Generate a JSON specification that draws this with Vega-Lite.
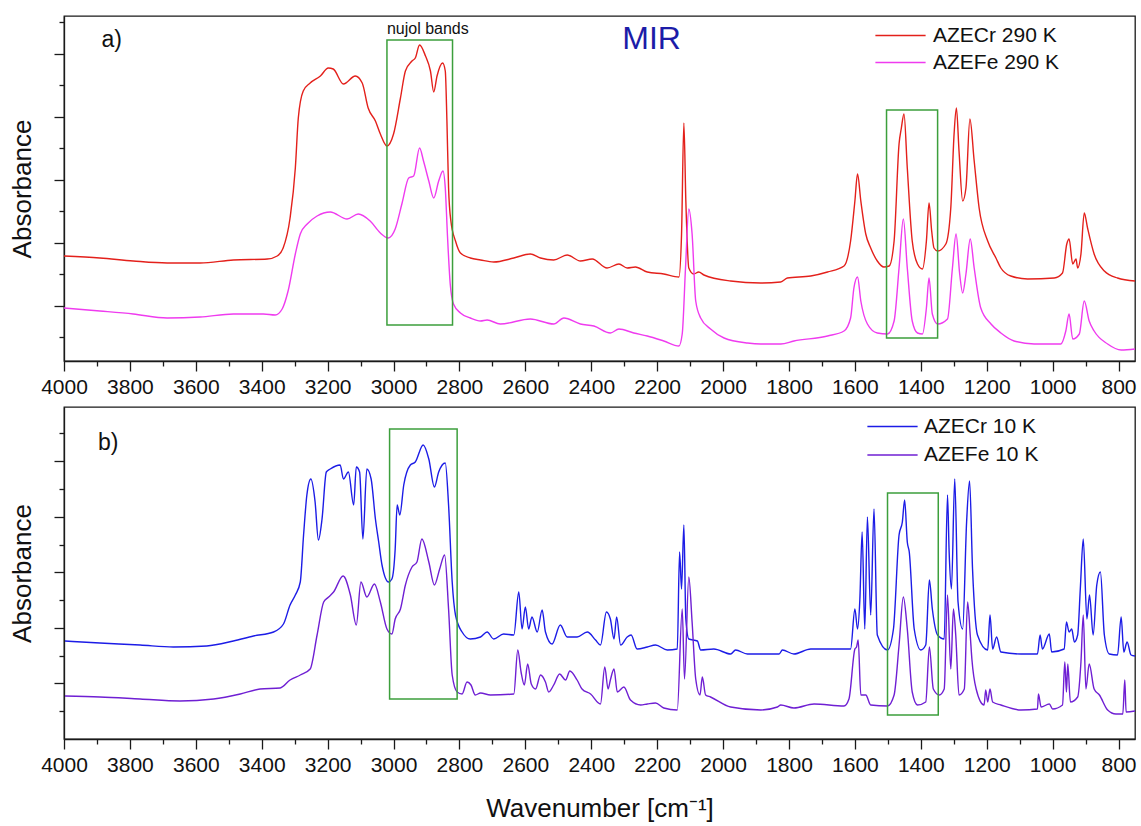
{
"$schema":"https://vega.github.io/schema/vega-lite/v6.json",
"padding":{"left":8,"top":15,"right":5,"bottom":5},
"spacing":8,
"config":{"font":"Liberation Sans","view":{"stroke":"#1a1a1a","strokeWidth":1.3},
"axis":{"domainColor":"#1a1a1a","domainWidth":1.3,"tickColor":"#1a1a1a","tickWidth":1.3,"labelColor":"#111","titleColor":"#111","labelFont":"Liberation Sans","titleFont":"Liberation Sans","grid":false,"titleFontWeight":"normal"},
"legend":{"labelFont":"Liberation Sans","labelColor":"#111"}},
"datasets":{
"top":[
{"s":"AZECr 290 K","wn":4000,"a":105},{"s":"AZECr 290 K","wn":3891,"a":103},{"s":"AZECr 290 K","wn":3790,"a":100},{"s":"AZECr 290 K","wn":3687,"a":98},{"s":"AZECr 290 K","wn":3587,"a":98},{"s":"AZECr 290 K","wn":3486,"a":101},{"s":"AZECr 290 K","wn":3383,"a":102},{"s":"AZECr 290 K","wn":3353,"a":105},{"s":"AZECr 290 K","wn":3335,"a":113},{"s":"AZECr 290 K","wn":3314,"a":143},{"s":"AZECr 290 K","wn":3298,"a":193},{"s":"AZECr 290 K","wn":3289,"a":243},{"s":"AZECr 290 K","wn":3274,"a":270},{"s":"AZECr 290 K","wn":3253,"a":278},{"s":"AZECr 290 K","wn":3222,"a":285},{"s":"AZECr 290 K","wn":3198,"a":293},{"s":"AZECr 290 K","wn":3183,"a":292},{"s":"AZECr 290 K","wn":3152,"a":277},{"s":"AZECr 290 K","wn":3116,"a":285},{"s":"AZECr 290 K","wn":3095,"a":278},{"s":"AZECr 290 K","wn":3077,"a":253},{"s":"AZECr 290 K","wn":3055,"a":240},{"s":"AZECr 290 K","wn":3040,"a":227},{"s":"AZECr 290 K","wn":3020,"a":215},{"s":"AZECr 290 K","wn":3000,"a":227},{"s":"AZECr 290 K","wn":2979,"a":263},{"s":"AZECr 290 K","wn":2964,"a":290},{"s":"AZECr 290 K","wn":2944,"a":300},{"s":"AZECr 290 K","wn":2934,"a":303},{"s":"AZECr 290 K","wn":2921,"a":316},{"s":"AZECr 290 K","wn":2903,"a":305},{"s":"AZECr 290 K","wn":2888,"a":290},{"s":"AZECr 290 K","wn":2878,"a":269},{"s":"AZECr 290 K","wn":2868,"a":285},{"s":"AZECr 290 K","wn":2851,"a":298},{"s":"AZECr 290 K","wn":2843,"a":290},{"s":"AZECr 290 K","wn":2838,"a":240},{"s":"AZECr 290 K","wn":2833,"a":173},{"s":"AZECr 290 K","wn":2826,"a":140},{"s":"AZECr 290 K","wn":2812,"a":120},{"s":"AZECr 290 K","wn":2797,"a":108},{"s":"AZECr 290 K","wn":2767,"a":103},{"s":"AZECr 290 K","wn":2736,"a":101},{"s":"AZECr 290 K","wn":2696,"a":99},{"s":"AZECr 290 K","wn":2635,"a":103},{"s":"AZECr 290 K","wn":2585,"a":107},{"s":"AZECr 290 K","wn":2554,"a":103},{"s":"AZECr 290 K","wn":2514,"a":101},{"s":"AZECr 290 K","wn":2473,"a":106},{"s":"AZECr 290 K","wn":2433,"a":100},{"s":"AZECr 290 K","wn":2397,"a":102},{"s":"AZECr 290 K","wn":2352,"a":93},{"s":"AZECr 290 K","wn":2316,"a":97},{"s":"AZECr 290 K","wn":2291,"a":93},{"s":"AZECr 290 K","wn":2266,"a":94},{"s":"AZECr 290 K","wn":2230,"a":89},{"s":"AZECr 290 K","wn":2180,"a":87},{"s":"AZECr 290 K","wn":2134,"a":84},{"s":"AZECr 290 K","wn":2126,"a":127},{"s":"AZECr 290 K","wn":2119,"a":238},{"s":"AZECr 290 K","wn":2113,"a":160},{"s":"AZECr 290 K","wn":2104,"a":93},{"s":"AZECr 290 K","wn":2089,"a":87},{"s":"AZECr 290 K","wn":2074,"a":89},{"s":"AZECr 290 K","wn":2058,"a":86},{"s":"AZECr 290 K","wn":1977,"a":80},{"s":"AZECr 290 K","wn":1886,"a":78},{"s":"AZECr 290 K","wn":1825,"a":79},{"s":"AZECr 290 K","wn":1805,"a":83},{"s":"AZECr 290 K","wn":1734,"a":85},{"s":"AZECr 290 K","wn":1683,"a":89},{"s":"AZECr 290 K","wn":1633,"a":95},{"s":"AZECr 290 K","wn":1613,"a":120},{"s":"AZECr 290 K","wn":1600,"a":160},{"s":"AZECr 290 K","wn":1592,"a":187},{"s":"AZECr 290 K","wn":1582,"a":160},{"s":"AZECr 290 K","wn":1567,"a":127},{"s":"AZECr 290 K","wn":1552,"a":113},{"s":"AZECr 290 K","wn":1532,"a":100},{"s":"AZECr 290 K","wn":1512,"a":94},{"s":"AZECr 290 K","wn":1496,"a":95},{"s":"AZECr 290 K","wn":1481,"a":120},{"s":"AZECr 290 K","wn":1466,"a":217},{"s":"AZECr 290 K","wn":1459,"a":233},{"s":"AZECr 290 K","wn":1451,"a":247},{"s":"AZECr 290 K","wn":1441,"a":193},{"s":"AZECr 290 K","wn":1426,"a":120},{"s":"AZECr 290 K","wn":1410,"a":97},{"s":"AZECr 290 K","wn":1395,"a":92},{"s":"AZECr 290 K","wn":1383,"a":120},{"s":"AZECr 290 K","wn":1375,"a":158},{"s":"AZECr 290 K","wn":1367,"a":130},{"s":"AZECr 290 K","wn":1360,"a":113},{"s":"AZECr 290 K","wn":1349,"a":110},{"s":"AZECr 290 K","wn":1324,"a":117},{"s":"AZECr 290 K","wn":1309,"a":153},{"s":"AZECr 290 K","wn":1299,"a":227},{"s":"AZECr 290 K","wn":1292,"a":253},{"s":"AZECr 290 K","wn":1284,"a":210},{"s":"AZECr 290 K","wn":1273,"a":160},{"s":"AZECr 290 K","wn":1263,"a":173},{"s":"AZECr 290 K","wn":1251,"a":242},{"s":"AZECr 290 K","wn":1238,"a":200},{"s":"AZECr 290 K","wn":1223,"a":153},{"s":"AZECr 290 K","wn":1197,"a":120},{"s":"AZECr 290 K","wn":1172,"a":103},{"s":"AZECr 290 K","wn":1157,"a":93},{"s":"AZECr 290 K","wn":1127,"a":85},{"s":"AZECr 290 K","wn":1076,"a":82},{"s":"AZECr 290 K","wn":995,"a":83},{"s":"AZECr 290 K","wn":970,"a":88},{"s":"AZECr 290 K","wn":957,"a":117},{"s":"AZECr 290 K","wn":950,"a":122},{"s":"AZECr 290 K","wn":939,"a":97},{"s":"AZECr 290 K","wn":929,"a":102},{"s":"AZECr 290 K","wn":924,"a":93},{"s":"AZECr 290 K","wn":914,"a":107},{"s":"AZECr 290 K","wn":904,"a":148},{"s":"AZECr 290 K","wn":894,"a":133},{"s":"AZECr 290 K","wn":874,"a":107},{"s":"AZECr 290 K","wn":843,"a":90},{"s":"AZECr 290 K","wn":803,"a":83},{"s":"AZECr 290 K","wn":750,"a":80},
{"s":"AZEFe 290 K","wn":4000,"a":53},{"s":"AZEFe 290 K","wn":3891,"a":50},{"s":"AZEFe 290 K","wn":3790,"a":47},{"s":"AZEFe 290 K","wn":3687,"a":43},{"s":"AZEFe 290 K","wn":3587,"a":44},{"s":"AZEFe 290 K","wn":3486,"a":47},{"s":"AZEFe 290 K","wn":3395,"a":47},{"s":"AZEFe 290 K","wn":3359,"a":46},{"s":"AZEFe 290 K","wn":3338,"a":52},{"s":"AZEFe 290 K","wn":3320,"a":70},{"s":"AZEFe 290 K","wn":3298,"a":107},{"s":"AZEFe 290 K","wn":3283,"a":127},{"s":"AZEFe 290 K","wn":3262,"a":137},{"s":"AZEFe 290 K","wn":3232,"a":145},{"s":"AZEFe 290 K","wn":3192,"a":149},{"s":"AZEFe 290 K","wn":3141,"a":142},{"s":"AZEFe 290 K","wn":3107,"a":147},{"s":"AZEFe 290 K","wn":3071,"a":140},{"s":"AZEFe 290 K","wn":3040,"a":128},{"s":"AZEFe 290 K","wn":3016,"a":123},{"s":"AZEFe 290 K","wn":2995,"a":132},{"s":"AZEFe 290 K","wn":2974,"a":158},{"s":"AZEFe 290 K","wn":2954,"a":183},{"s":"AZEFe 290 K","wn":2939,"a":185},{"s":"AZEFe 290 K","wn":2921,"a":213},{"s":"AZEFe 290 K","wn":2909,"a":200},{"s":"AZEFe 290 K","wn":2893,"a":180},{"s":"AZEFe 290 K","wn":2878,"a":163},{"s":"AZEFe 290 K","wn":2863,"a":180},{"s":"AZEFe 290 K","wn":2850,"a":190},{"s":"AZEFe 290 K","wn":2843,"a":173},{"s":"AZEFe 290 K","wn":2836,"a":123},{"s":"AZEFe 290 K","wn":2828,"a":77},{"s":"AZEFe 290 K","wn":2818,"a":57},{"s":"AZEFe 290 K","wn":2797,"a":48},{"s":"AZEFe 290 K","wn":2767,"a":43},{"s":"AZEFe 290 K","wn":2736,"a":40},{"s":"AZEFe 290 K","wn":2716,"a":41},{"s":"AZEFe 290 K","wn":2676,"a":37},{"s":"AZEFe 290 K","wn":2585,"a":42},{"s":"AZEFe 290 K","wn":2514,"a":37},{"s":"AZEFe 290 K","wn":2483,"a":43},{"s":"AZEFe 290 K","wn":2433,"a":37},{"s":"AZEFe 290 K","wn":2392,"a":35},{"s":"AZEFe 290 K","wn":2342,"a":28},{"s":"AZEFe 290 K","wn":2316,"a":32},{"s":"AZEFe 290 K","wn":2271,"a":28},{"s":"AZEFe 290 K","wn":2230,"a":25},{"s":"AZEFe 290 K","wn":2180,"a":20},{"s":"AZEFe 290 K","wn":2134,"a":15},{"s":"AZEFe 290 K","wn":2124,"a":27},{"s":"AZEFe 290 K","wn":2114,"a":93},{"s":"AZEFe 290 K","wn":2104,"a":152},{"s":"AZEFe 290 K","wn":2094,"a":127},{"s":"AZEFe 290 K","wn":2083,"a":60},{"s":"AZEFe 290 K","wn":2068,"a":43},{"s":"AZEFe 290 K","wn":2038,"a":32},{"s":"AZEFe 290 K","wn":1997,"a":23},{"s":"AZEFe 290 K","wn":1926,"a":18},{"s":"AZEFe 290 K","wn":1886,"a":17},{"s":"AZEFe 290 K","wn":1825,"a":17},{"s":"AZEFe 290 K","wn":1785,"a":20},{"s":"AZEFe 290 K","wn":1683,"a":25},{"s":"AZEFe 290 K","wn":1633,"a":30},{"s":"AZEFe 290 K","wn":1613,"a":43},{"s":"AZEFe 290 K","wn":1603,"a":73},{"s":"AZEFe 290 K","wn":1592,"a":84},{"s":"AZEFe 290 K","wn":1582,"a":60},{"s":"AZEFe 290 K","wn":1562,"a":37},{"s":"AZEFe 290 K","wn":1532,"a":28},{"s":"AZEFe 290 K","wn":1501,"a":27},{"s":"AZEFe 290 K","wn":1481,"a":40},{"s":"AZEFe 290 K","wn":1466,"a":93},{"s":"AZEFe 290 K","wn":1453,"a":142},{"s":"AZEFe 290 K","wn":1441,"a":93},{"s":"AZEFe 290 K","wn":1426,"a":40},{"s":"AZEFe 290 K","wn":1410,"a":28},{"s":"AZEFe 290 K","wn":1395,"a":27},{"s":"AZEFe 290 K","wn":1383,"a":53},{"s":"AZEFe 290 K","wn":1375,"a":83},{"s":"AZEFe 290 K","wn":1365,"a":47},{"s":"AZEFe 290 K","wn":1349,"a":37},{"s":"AZEFe 290 K","wn":1319,"a":42},{"s":"AZEFe 290 K","wn":1304,"a":93},{"s":"AZEFe 290 K","wn":1293,"a":127},{"s":"AZEFe 290 K","wn":1282,"a":87},{"s":"AZEFe 290 K","wn":1273,"a":68},{"s":"AZEFe 290 K","wn":1263,"a":87},{"s":"AZEFe 290 K","wn":1250,"a":122},{"s":"AZEFe 290 K","wn":1238,"a":93},{"s":"AZEFe 290 K","wn":1218,"a":53},{"s":"AZEFe 290 K","wn":1187,"a":37},{"s":"AZEFe 290 K","wn":1157,"a":28},{"s":"AZEFe 290 K","wn":1117,"a":20},{"s":"AZEFe 290 K","wn":1056,"a":17},{"s":"AZEFe 290 K","wn":975,"a":17},{"s":"AZEFe 290 K","wn":960,"a":30},{"s":"AZEFe 290 K","wn":950,"a":47},{"s":"AZEFe 290 K","wn":939,"a":22},{"s":"AZEFe 290 K","wn":919,"a":27},{"s":"AZEFe 290 K","wn":904,"a":60},{"s":"AZEFe 290 K","wn":889,"a":40},{"s":"AZEFe 290 K","wn":874,"a":30},{"s":"AZEFe 290 K","wn":833,"a":17},{"s":"AZEFe 290 K","wn":792,"a":11},{"s":"AZEFe 290 K","wn":750,"a":12}
],
"bot":[
{"s":"AZECr 10 K","wn":3997,"a":98},{"s":"AZECr 10 K","wn":3891,"a":96},{"s":"AZECr 10 K","wn":3769,"a":94},{"s":"AZECr 10 K","wn":3668,"a":92},{"s":"AZECr 10 K","wn":3567,"a":93},{"s":"AZECr 10 K","wn":3486,"a":98},{"s":"AZECr 10 K","wn":3425,"a":103},{"s":"AZECr 10 K","wn":3364,"a":107},{"s":"AZECr 10 K","wn":3334,"a":115},{"s":"AZECr 10 K","wn":3314,"a":134},{"s":"AZECr 10 K","wn":3298,"a":144},{"s":"AZECr 10 K","wn":3283,"a":157},{"s":"AZECr 10 K","wn":3273,"a":204},{"s":"AZECr 10 K","wn":3263,"a":244},{"s":"AZECr 10 K","wn":3251,"a":260},{"s":"AZECr 10 K","wn":3238,"a":237},{"s":"AZECr 10 K","wn":3228,"a":199},{"s":"AZECr 10 K","wn":3217,"a":220},{"s":"AZECr 10 K","wn":3204,"a":267},{"s":"AZECr 10 K","wn":3192,"a":270},{"s":"AZECr 10 K","wn":3162,"a":274},{"s":"AZECr 10 K","wn":3152,"a":260},{"s":"AZECr 10 K","wn":3137,"a":267},{"s":"AZECr 10 K","wn":3121,"a":234},{"s":"AZECr 10 K","wn":3113,"a":272},{"s":"AZECr 10 K","wn":3103,"a":267},{"s":"AZECr 10 K","wn":3093,"a":200},{"s":"AZECr 10 K","wn":3081,"a":270},{"s":"AZECr 10 K","wn":3068,"a":260},{"s":"AZECr 10 K","wn":3055,"a":220},{"s":"AZECr 10 K","wn":3045,"a":197},{"s":"AZECr 10 K","wn":3035,"a":174},{"s":"AZECr 10 K","wn":3015,"a":157},{"s":"AZECr 10 K","wn":3005,"a":160},{"s":"AZECr 10 K","wn":2995,"a":190},{"s":"AZECr 10 K","wn":2989,"a":234},{"s":"AZECr 10 K","wn":2981,"a":224},{"s":"AZECr 10 K","wn":2969,"a":254},{"s":"AZECr 10 K","wn":2949,"a":274},{"s":"AZECr 10 K","wn":2934,"a":277},{"s":"AZECr 10 K","wn":2910,"a":294},{"s":"AZECr 10 K","wn":2893,"a":280},{"s":"AZECr 10 K","wn":2876,"a":252},{"s":"AZECr 10 K","wn":2863,"a":267},{"s":"AZECr 10 K","wn":2843,"a":276},{"s":"AZECr 10 K","wn":2833,"a":234},{"s":"AZECr 10 K","wn":2822,"a":157},{"s":"AZECr 10 K","wn":2812,"a":124},{"s":"AZECr 10 K","wn":2792,"a":107},{"s":"AZECr 10 K","wn":2767,"a":100},{"s":"AZECr 10 K","wn":2736,"a":102},{"s":"AZECr 10 K","wn":2716,"a":107},{"s":"AZECr 10 K","wn":2696,"a":100},{"s":"AZECr 10 K","wn":2666,"a":105},{"s":"AZECr 10 K","wn":2635,"a":104},{"s":"AZECr 10 K","wn":2620,"a":147},{"s":"AZECr 10 K","wn":2610,"a":110},{"s":"AZECr 10 K","wn":2600,"a":132},{"s":"AZECr 10 K","wn":2590,"a":110},{"s":"AZECr 10 K","wn":2580,"a":122},{"s":"AZECr 10 K","wn":2564,"a":107},{"s":"AZECr 10 K","wn":2549,"a":129},{"s":"AZECr 10 K","wn":2539,"a":107},{"s":"AZECr 10 K","wn":2519,"a":95},{"s":"AZECr 10 K","wn":2494,"a":114},{"s":"AZECr 10 K","wn":2473,"a":102},{"s":"AZECr 10 K","wn":2443,"a":102},{"s":"AZECr 10 K","wn":2412,"a":107},{"s":"AZECr 10 K","wn":2387,"a":99},{"s":"AZECr 10 K","wn":2372,"a":94},{"s":"AZECr 10 K","wn":2354,"a":127},{"s":"AZECr 10 K","wn":2342,"a":120},{"s":"AZECr 10 K","wn":2331,"a":100},{"s":"AZECr 10 K","wn":2323,"a":122},{"s":"AZECr 10 K","wn":2311,"a":94},{"s":"AZECr 10 K","wn":2291,"a":102},{"s":"AZECr 10 K","wn":2279,"a":104},{"s":"AZECr 10 K","wn":2261,"a":90},{"s":"AZECr 10 K","wn":2230,"a":92},{"s":"AZECr 10 K","wn":2205,"a":94},{"s":"AZECr 10 K","wn":2169,"a":89},{"s":"AZECr 10 K","wn":2139,"a":90},{"s":"AZECr 10 K","wn":2132,"a":187},{"s":"AZECr 10 K","wn":2126,"a":150},{"s":"AZECr 10 K","wn":2119,"a":214},{"s":"AZECr 10 K","wn":2113,"a":120},{"s":"AZECr 10 K","wn":2104,"a":100},{"s":"AZECr 10 K","wn":2078,"a":98},{"s":"AZECr 10 K","wn":2068,"a":89},{"s":"AZECr 10 K","wn":2028,"a":90},{"s":"AZECr 10 K","wn":1977,"a":85},{"s":"AZECr 10 K","wn":1962,"a":89},{"s":"AZECr 10 K","wn":1926,"a":85},{"s":"AZECr 10 K","wn":1886,"a":85},{"s":"AZECr 10 K","wn":1830,"a":85},{"s":"AZECr 10 K","wn":1820,"a":89},{"s":"AZECr 10 K","wn":1785,"a":85},{"s":"AZECr 10 K","wn":1734,"a":90},{"s":"AZECr 10 K","wn":1633,"a":90},{"s":"AZECr 10 K","wn":1613,"a":90},{"s":"AZECr 10 K","wn":1600,"a":130},{"s":"AZECr 10 K","wn":1592,"a":110},{"s":"AZECr 10 K","wn":1585,"a":139},{"s":"AZECr 10 K","wn":1578,"a":207},{"s":"AZECr 10 K","wn":1570,"a":110},{"s":"AZECr 10 K","wn":1562,"a":222},{"s":"AZECr 10 K","wn":1552,"a":124},{"s":"AZECr 10 K","wn":1542,"a":230},{"s":"AZECr 10 K","wn":1532,"a":104},{"s":"AZECr 10 K","wn":1501,"a":89},{"s":"AZECr 10 K","wn":1483,"a":110},{"s":"AZECr 10 K","wn":1466,"a":204},{"s":"AZECr 10 K","wn":1456,"a":217},{"s":"AZECr 10 K","wn":1449,"a":239},{"s":"AZECr 10 K","wn":1441,"a":197},{"s":"AZECr 10 K","wn":1435,"a":187},{"s":"AZECr 10 K","wn":1420,"a":110},{"s":"AZECr 10 K","wn":1400,"a":89},{"s":"AZECr 10 K","wn":1385,"a":94},{"s":"AZECr 10 K","wn":1374,"a":159},{"s":"AZECr 10 K","wn":1365,"a":130},{"s":"AZECr 10 K","wn":1349,"a":104},{"s":"AZECr 10 K","wn":1329,"a":100},{"s":"AZECr 10 K","wn":1319,"a":244},{"s":"AZECr 10 K","wn":1314,"a":187},{"s":"AZECr 10 K","wn":1307,"a":150},{"s":"AZECr 10 K","wn":1297,"a":260},{"s":"AZECr 10 K","wn":1287,"a":137},{"s":"AZECr 10 K","wn":1273,"a":110},{"s":"AZECr 10 K","wn":1261,"a":217},{"s":"AZECr 10 K","wn":1252,"a":258},{"s":"AZECr 10 K","wn":1243,"a":170},{"s":"AZECr 10 K","wn":1228,"a":104},{"s":"AZECr 10 K","wn":1197,"a":89},{"s":"AZECr 10 K","wn":1190,"a":124},{"s":"AZECr 10 K","wn":1182,"a":90},{"s":"AZECr 10 K","wn":1170,"a":102},{"s":"AZECr 10 K","wn":1157,"a":87},{"s":"AZECr 10 K","wn":1096,"a":85},{"s":"AZECr 10 K","wn":1046,"a":85},{"s":"AZECr 10 K","wn":1038,"a":104},{"s":"AZECr 10 K","wn":1031,"a":90},{"s":"AZECr 10 K","wn":1010,"a":105},{"s":"AZECr 10 K","wn":1003,"a":87},{"s":"AZECr 10 K","wn":965,"a":90},{"s":"AZECr 10 K","wn":958,"a":117},{"s":"AZECr 10 K","wn":950,"a":107},{"s":"AZECr 10 K","wn":942,"a":110},{"s":"AZECr 10 K","wn":934,"a":97},{"s":"AZECr 10 K","wn":924,"a":104},{"s":"AZECr 10 K","wn":916,"a":150},{"s":"AZECr 10 K","wn":907,"a":200},{"s":"AZECr 10 K","wn":896,"a":120},{"s":"AZECr 10 K","wn":888,"a":144},{"s":"AZECr 10 K","wn":877,"a":104},{"s":"AZECr 10 K","wn":866,"a":154},{"s":"AZECr 10 K","wn":855,"a":167},{"s":"AZECr 10 K","wn":843,"a":104},{"s":"AZECr 10 K","wn":828,"a":85},{"s":"AZECr 10 K","wn":803,"a":84},{"s":"AZECr 10 K","wn":792,"a":122},{"s":"AZECr 10 K","wn":784,"a":87},{"s":"AZECr 10 K","wn":774,"a":97},{"s":"AZECr 10 K","wn":762,"a":84},{"s":"AZECr 10 K","wn":750,"a":83},
{"s":"AZEFe 10 K","wn":3997,"a":43},{"s":"AZEFe 10 K","wn":3891,"a":42},{"s":"AZEFe 10 K","wn":3769,"a":40},{"s":"AZEFe 10 K","wn":3648,"a":38},{"s":"AZEFe 10 K","wn":3546,"a":40},{"s":"AZEFe 10 K","wn":3465,"a":45},{"s":"AZEFe 10 K","wn":3405,"a":50},{"s":"AZEFe 10 K","wn":3344,"a":51},{"s":"AZEFe 10 K","wn":3314,"a":59},{"s":"AZEFe 10 K","wn":3283,"a":64},{"s":"AZEFe 10 K","wn":3253,"a":70},{"s":"AZEFe 10 K","wn":3232,"a":104},{"s":"AZEFe 10 K","wn":3212,"a":137},{"s":"AZEFe 10 K","wn":3197,"a":142},{"s":"AZEFe 10 K","wn":3182,"a":147},{"s":"AZEFe 10 K","wn":3153,"a":163},{"s":"AZEFe 10 K","wn":3131,"a":144},{"s":"AZEFe 10 K","wn":3113,"a":114},{"s":"AZEFe 10 K","wn":3099,"a":157},{"s":"AZEFe 10 K","wn":3081,"a":142},{"s":"AZEFe 10 K","wn":3058,"a":155},{"s":"AZEFe 10 K","wn":3040,"a":137},{"s":"AZEFe 10 K","wn":3020,"a":110},{"s":"AZEFe 10 K","wn":3005,"a":105},{"s":"AZEFe 10 K","wn":2995,"a":120},{"s":"AZEFe 10 K","wn":2979,"a":130},{"s":"AZEFe 10 K","wn":2964,"a":154},{"s":"AZEFe 10 K","wn":2944,"a":172},{"s":"AZEFe 10 K","wn":2929,"a":177},{"s":"AZEFe 10 K","wn":2914,"a":200},{"s":"AZEFe 10 K","wn":2893,"a":177},{"s":"AZEFe 10 K","wn":2876,"a":154},{"s":"AZEFe 10 K","wn":2860,"a":170},{"s":"AZEFe 10 K","wn":2845,"a":184},{"s":"AZEFe 10 K","wn":2833,"a":130},{"s":"AZEFe 10 K","wn":2822,"a":64},{"s":"AZEFe 10 K","wn":2807,"a":47},{"s":"AZEFe 10 K","wn":2792,"a":45},{"s":"AZEFe 10 K","wn":2777,"a":57},{"s":"AZEFe 10 K","wn":2765,"a":54},{"s":"AZEFe 10 K","wn":2752,"a":44},{"s":"AZEFe 10 K","wn":2736,"a":46},{"s":"AZEFe 10 K","wn":2706,"a":44},{"s":"AZEFe 10 K","wn":2635,"a":45},{"s":"AZEFe 10 K","wn":2623,"a":89},{"s":"AZEFe 10 K","wn":2613,"a":67},{"s":"AZEFe 10 K","wn":2603,"a":54},{"s":"AZEFe 10 K","wn":2593,"a":75},{"s":"AZEFe 10 K","wn":2582,"a":55},{"s":"AZEFe 10 K","wn":2569,"a":50},{"s":"AZEFe 10 K","wn":2554,"a":64},{"s":"AZEFe 10 K","wn":2539,"a":57},{"s":"AZEFe 10 K","wn":2529,"a":47},{"s":"AZEFe 10 K","wn":2514,"a":54},{"s":"AZEFe 10 K","wn":2496,"a":65},{"s":"AZEFe 10 K","wn":2478,"a":59},{"s":"AZEFe 10 K","wn":2465,"a":68},{"s":"AZEFe 10 K","wn":2443,"a":59},{"s":"AZEFe 10 K","wn":2428,"a":50},{"s":"AZEFe 10 K","wn":2402,"a":45},{"s":"AZEFe 10 K","wn":2372,"a":35},{"s":"AZEFe 10 K","wn":2359,"a":72},{"s":"AZEFe 10 K","wn":2349,"a":50},{"s":"AZEFe 10 K","wn":2342,"a":59},{"s":"AZEFe 10 K","wn":2331,"a":70},{"s":"AZEFe 10 K","wn":2321,"a":47},{"s":"AZEFe 10 K","wn":2301,"a":52},{"s":"AZEFe 10 K","wn":2281,"a":39},{"s":"AZEFe 10 K","wn":2250,"a":34},{"s":"AZEFe 10 K","wn":2230,"a":35},{"s":"AZEFe 10 K","wn":2205,"a":36},{"s":"AZEFe 10 K","wn":2180,"a":31},{"s":"AZEFe 10 K","wn":2139,"a":29},{"s":"AZEFe 10 K","wn":2124,"a":130},{"s":"AZEFe 10 K","wn":2117,"a":60},{"s":"AZEFe 10 K","wn":2104,"a":162},{"s":"AZEFe 10 K","wn":2094,"a":117},{"s":"AZEFe 10 K","wn":2083,"a":60},{"s":"AZEFe 10 K","wn":2070,"a":44},{"s":"AZEFe 10 K","wn":2063,"a":62},{"s":"AZEFe 10 K","wn":2053,"a":44},{"s":"AZEFe 10 K","wn":2038,"a":42},{"s":"AZEFe 10 K","wn":1977,"a":32},{"s":"AZEFe 10 K","wn":1886,"a":29},{"s":"AZEFe 10 K","wn":1835,"a":32},{"s":"AZEFe 10 K","wn":1825,"a":34},{"s":"AZEFe 10 K","wn":1785,"a":31},{"s":"AZEFe 10 K","wn":1724,"a":35},{"s":"AZEFe 10 K","wn":1633,"a":33},{"s":"AZEFe 10 K","wn":1618,"a":40},{"s":"AZEFe 10 K","wn":1600,"a":90},{"s":"AZEFe 10 K","wn":1595,"a":92},{"s":"AZEFe 10 K","wn":1590,"a":99},{"s":"AZEFe 10 K","wn":1582,"a":44},{"s":"AZEFe 10 K","wn":1567,"a":44},{"s":"AZEFe 10 K","wn":1552,"a":34},{"s":"AZEFe 10 K","wn":1501,"a":33},{"s":"AZEFe 10 K","wn":1481,"a":44},{"s":"AZEFe 10 K","wn":1466,"a":94},{"s":"AZEFe 10 K","wn":1453,"a":142},{"s":"AZEFe 10 K","wn":1441,"a":110},{"s":"AZEFe 10 K","wn":1426,"a":47},{"s":"AZEFe 10 K","wn":1410,"a":34},{"s":"AZEFe 10 K","wn":1385,"a":37},{"s":"AZEFe 10 K","wn":1374,"a":92},{"s":"AZEFe 10 K","wn":1362,"a":50},{"s":"AZEFe 10 K","wn":1344,"a":44},{"s":"AZEFe 10 K","wn":1329,"a":50},{"s":"AZEFe 10 K","wn":1319,"a":144},{"s":"AZEFe 10 K","wn":1309,"a":70},{"s":"AZEFe 10 K","wn":1301,"a":130},{"s":"AZEFe 10 K","wn":1294,"a":104},{"s":"AZEFe 10 K","wn":1284,"a":44},{"s":"AZEFe 10 K","wn":1268,"a":50},{"s":"AZEFe 10 K","wn":1258,"a":137},{"s":"AZEFe 10 K","wn":1250,"a":104},{"s":"AZEFe 10 K","wn":1245,"a":80},{"s":"AZEFe 10 K","wn":1232,"a":50},{"s":"AZEFe 10 K","wn":1208,"a":34},{"s":"AZEFe 10 K","wn":1203,"a":49},{"s":"AZEFe 10 K","wn":1197,"a":37},{"s":"AZEFe 10 K","wn":1190,"a":50},{"s":"AZEFe 10 K","wn":1182,"a":37},{"s":"AZEFe 10 K","wn":1157,"a":34},{"s":"AZEFe 10 K","wn":1096,"a":29},{"s":"AZEFe 10 K","wn":1046,"a":30},{"s":"AZEFe 10 K","wn":1043,"a":45},{"s":"AZEFe 10 K","wn":1035,"a":32},{"s":"AZEFe 10 K","wn":1010,"a":35},{"s":"AZEFe 10 K","wn":1000,"a":30},{"s":"AZEFe 10 K","wn":970,"a":34},{"s":"AZEFe 10 K","wn":963,"a":77},{"s":"AZEFe 10 K","wn":958,"a":47},{"s":"AZEFe 10 K","wn":954,"a":75},{"s":"AZEFe 10 K","wn":946,"a":37},{"s":"AZEFe 10 K","wn":924,"a":42},{"s":"AZEFe 10 K","wn":914,"a":77},{"s":"AZEFe 10 K","wn":907,"a":124},{"s":"AZEFe 10 K","wn":899,"a":50},{"s":"AZEFe 10 K","wn":889,"a":75},{"s":"AZEFe 10 K","wn":874,"a":50},{"s":"AZEFe 10 K","wn":858,"a":44},{"s":"AZEFe 10 K","wn":833,"a":29},{"s":"AZEFe 10 K","wn":808,"a":25},{"s":"AZEFe 10 K","wn":787,"a":25},{"s":"AZEFe 10 K","wn":781,"a":59},{"s":"AZEFe 10 K","wn":777,"a":27},{"s":"AZEFe 10 K","wn":750,"a":28}
],
"topBoxes":[{"x1":3020,"x2":2821,"y1":321,"y2":36},{"x1":1504,"x2":1349,"y1":251,"y2":23}],
"botBoxes":[{"x1":3012,"x2":2807,"y1":310,"y2":40},{"x1":1501,"x2":1347,"y1":246,"y2":24}],
"topPanel":[{"wn":3855,"a":321,"label":"a)"}],
"topMir":[{"wn":2217,"a":322,"label":"MIR"}],
"topNujol":[{"wn":2896,"a":332,"label":"nujol bands"}],
"botPanel":[{"wn":3866,"a":296,"label":"b)"}]
},
"vconcat":[
{"width":1071,"height":345,
"layer":[
{"data":{"name":"top"},"mark":{"type":"line","strokeWidth":1.4,"interpolate":"monotone"},
"encoding":{
"x":{"field":"wn","type":"quantitative","scale":{"domain":[750,4000],"reverse":true,"nice":false,"zero":false},
"axis":{"orient":"bottom","values":[4000,3800,3600,3400,3200,3000,2800,2600,2400,2200,2000,1800,1600,1400,1200,1000,800],"format":"d","tickSize":10,"labelFontSize":21,"labelPadding":5,"labelFlush":false,"labelOverlap":false,"title":null}},
"y":{"field":"a","type":"quantitative","scale":{"domain":[0,345],"nice":false,"zero":false},
"axis":{"orient":"left","values":[55.5,118.5,181.5,244.5,307.5],"tickSize":10,"labels":false,"title":"Absorbance","titleFontSize":26,"titlePadding":18}},
"color":{"field":"s","type":"nominal","scale":{"domain":["AZECr 290 K","AZEFe 290 K"],"range":["#e3201b","#ef3bef"]},
"legend":{"orient":"none","legendX":826,"legendY":9,"title":null,"padding":0,"labelFontSize":21,"symbolType":"M-2.9,0H2.9","symbolSize":300,"symbolStrokeWidth":1.5,"labelOffset":22,"rowPadding":5}}}},
{"data":{"name":"topBoxes"},"mark":{"type":"rect","filled":false,"stroke":"#3c9f3c","strokeWidth":1.5},
"encoding":{
"x":{"field":"x1","type":"quantitative","scale":{"domain":[750,4000],"reverse":true,"nice":false,"zero":false},
"axis":{"orient":"bottom","values":[3900,3700,3500,3300,3100,2900,2700,2500,2300,2100,1900,1700,1500,1300,1100,900],"tickSize":5,"labels":false,"domain":false,"title":null}},
"x2":{"field":"x2"},
"y":{"field":"y1","type":"quantitative","scale":{"domain":[0,345],"nice":false,"zero":false},
"axis":{"orient":"left","values":[24,87,150,213,276,339],"tickSize":5,"labels":false,"domain":false,"title":null}},
"y2":{"field":"y2"}}},
{"data":{"name":"topPanel"},"mark":{"type":"text","fontSize":23,"color":"#111","align":"center","baseline":"middle"},
"encoding":{"x":{"field":"wn","type":"quantitative","axis":null},"y":{"field":"a","type":"quantitative","axis":null},"text":{"field":"label"}}},
{"data":{"name":"topMir"},"mark":{"type":"text","fontSize":32,"color":"#1c1ca8","align":"center","baseline":"middle"},
"encoding":{"x":{"field":"wn","type":"quantitative","axis":null},"y":{"field":"a","type":"quantitative","axis":null},"text":{"field":"label"}}},
{"data":{"name":"topNujol"},"mark":{"type":"text","fontSize":16,"color":"#111","align":"center","baseline":"middle"},
"encoding":{"x":{"field":"wn","type":"quantitative","axis":null},"y":{"field":"a","type":"quantitative","axis":null},"text":{"field":"label"}}}
],
"resolve":{"axis":{"x":"independent","y":"independent"}}},
{"width":1071,"height":332,
"layer":[
{"data":{"name":"bot"},"mark":{"type":"line","strokeWidth":1.4,"interpolate":"monotone"},
"encoding":{
"x":{"field":"wn","type":"quantitative","scale":{"domain":[750,4000],"reverse":true,"nice":false,"zero":false},
"axis":{"orient":"bottom","values":[4000,3800,3600,3400,3200,3000,2800,2600,2400,2200,2000,1800,1600,1400,1200,1000,800],"format":"d","tickSize":10,"labelFontSize":21,"labelPadding":5,"labelFlush":false,"labelOverlap":false,"title":"Wavenumber [cm⁻¹]","titleFontSize":26,"titlePadding":20}},
"y":{"field":"a","type":"quantitative","scale":{"domain":[0,332],"nice":false,"zero":false},
"axis":{"orient":"left","values":[55.75,111.25,166.75,222.25,277.75],"tickSize":10,"labels":false,"title":"Absorbance","titleFontSize":26,"titlePadding":18}},
"color":{"field":"s","type":"nominal","scale":{"domain":["AZECr 10 K","AZEFe 10 K"],"range":["#1c1ce6","#6f1fd3"]},
"legend":{"orient":"none","legendX":818,"legendY":9,"title":null,"padding":0,"labelFontSize":21,"symbolType":"M-2.9,0H2.9","symbolSize":300,"symbolStrokeWidth":1.5,"labelOffset":21,"rowPadding":6.6}}}},
{"data":{"name":"botBoxes"},"mark":{"type":"rect","filled":false,"stroke":"#3c9f3c","strokeWidth":1.5},
"encoding":{
"x":{"field":"x1","type":"quantitative","scale":{"domain":[750,4000],"reverse":true,"nice":false,"zero":false},
"axis":{"orient":"bottom","values":[3900,3700,3500,3300,3100,2900,2700,2500,2300,2100,1900,1700,1500,1300,1100,900],"tickSize":5,"labels":false,"domain":false,"title":null}},
"x2":{"field":"x2"},
"y":{"field":"y1","type":"quantitative","scale":{"domain":[0,332],"nice":false,"zero":false},
"axis":{"orient":"left","values":[28,83.5,139,194.5,250,305.5],"tickSize":5,"labels":false,"domain":false,"title":null}},
"y2":{"field":"y2"}}},
{"data":{"name":"botPanel"},"mark":{"type":"text","fontSize":23,"color":"#111","align":"center","baseline":"middle"},
"encoding":{"x":{"field":"wn","type":"quantitative","axis":null},"y":{"field":"a","type":"quantitative","axis":null},"text":{"field":"label"}}}
],
"resolve":{"axis":{"x":"independent","y":"independent"}}}
],
"resolve":{"scale":{"color":"independent"},"legend":{"color":"independent"}}
}
